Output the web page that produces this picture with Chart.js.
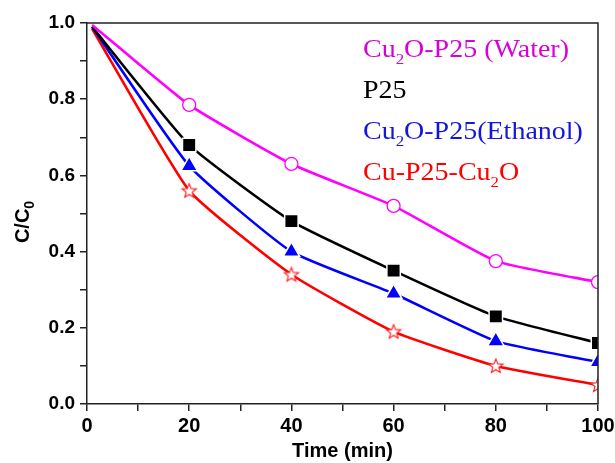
<!DOCTYPE html>
<html>
<head>
<meta charset="utf-8">
<script src="https://cdn.jsdelivr.net/npm/chart.js@4"></script>
<style>
  html, body { margin: 0; padding: 0; background: #fff; }
  #wrap { width: 615px; height: 463px; }
</style>
</head>
<body>
<div id="wrap"><canvas id="chart" width="615" height="463"></canvas></div>
<script>
const times = [1, 20, 40, 60, 80, 100];
const water = [0.995, 0.785, 0.63, 0.52, 0.375, 0.32];
const p25 = [0.99, 0.68, 0.48, 0.35, 0.23, 0.16];
const ethanol = [0.99, 0.625, 0.40, 0.29, 0.165, 0.11];
const cuP25 = [0.985, 0.56, 0.34, 0.19, 0.10, 0.05];

const xTicks = [0, 20, 40, 60, 80, 100];
const yTicks = [0.0, 0.2, 0.4, 0.6, 0.8, 1.0];

// legend lines: [text, isSubscript]
const legendRows = [
    { color: "#d800d8", parts: [["Cu", 0], ["2", 1], ["O-P25 (Water)", 0]] },
    { color: "#000000", parts: [["P25", 0]] },
    { color: "#1515e0", parts: [["Cu", 0], ["2", 1], ["O-P25(Ethanol)", 0]] },
    { color: "#ff0000", parts: [["Cu-P25-Cu", 0], ["2", 1], ["O", 0]] }
];

function pts(ys) {
    return ys.map((y, i) => ({ x: times[i], y: y }));
}

// open star marker
const star = document.createElement("canvas");
star.width = 18;
star.height = 18;
(function () {
    const s = star.getContext("2d");
    s.beginPath();
    for (let i = 0; i < 10; i++) {
        const r = i % 2 === 0 ? 7.5 : 3.2;
        const a = -Math.PI / 2 + i * Math.PI / 5;
        const px = 9 + Math.cos(a) * r;
        const py = 9.5 + Math.sin(a) * r;
        if (i === 0) s.moveTo(px, py); else s.lineTo(px, py);
    }
    s.closePath();
    s.fillStyle = "#fff";
    s.fill();
    s.strokeStyle = "#ff2020";
    s.lineWidth = 1.1;
    s.stroke();
})();

const hideFirst = (r) => (ctx) => ctx.dataIndex === 0 ? 0 : r;

const framePlugin = {
    id: "frame",
    afterDraw(chart) {
        const c = chart.ctx;
        const a = chart.chartArea;
        c.save();
        c.strokeStyle = "#222";
        c.lineWidth = 1.5;
        c.beginPath();
        c.moveTo(a.left, a.top);
        c.lineTo(a.right, a.top);
        c.lineTo(a.right, a.bottom);
        c.stroke();

        // legend text (slightly wide, like the original)
        let y = 57;
        legendRows.forEach(row => {
            c.save();
            c.translate(363, y);
            c.scale(1.12, 1);
            let x = 0;
            c.fillStyle = row.color;
            row.parts.forEach(p => {
                if (p[1]) {
                    c.font = "15px 'Liberation Serif', 'Times New Roman', serif";
                    c.fillText(p[0], x, 7);
                } else {
                    c.font = "25px 'Liberation Serif', 'Times New Roman', serif";
                    c.fillText(p[0], x, 0);
                }
                x += c.measureText(p[0]).width;
            });
            c.restore();
            y += 41;
        });

        // y axis title C/C0
        c.translate(29, 222);
        c.rotate(-Math.PI / 2);
        c.fillStyle = "#000";
        c.font = "bold 20px 'Liberation Sans', Arial, sans-serif";
        const w1 = c.measureText("C/C").width;
        c.font = "bold 14px 'Liberation Sans', Arial, sans-serif";
        const w2 = c.measureText("0").width;
        let sx = -(w1 + w2) / 2;
        c.font = "bold 20px 'Liberation Sans', Arial, sans-serif";
        c.fillText("C/C", sx, 0);
        c.font = "bold 14px 'Liberation Sans', Arial, sans-serif";
        c.fillText("0", sx + w1, 5);
        c.restore();
    }
};

const ctx = document.getElementById("chart");
const chart = new Chart(ctx, {
    type: "line",
    data: {
        datasets: [
            {
                label: "Cu2O-P25 (Water)",
                data: pts(water),
                borderColor: "#ff00ff",
                borderWidth: 2.6,
                pointStyle: "circle",
                pointRadius: hideFirst(6.5),
                pointBackgroundColor: "#fff",
                pointBorderColor: "#ff00ff",
                pointBorderWidth: 1.3
            },
            {
                label: "P25",
                data: pts(p25),
                borderColor: "#000",
                borderWidth: 2.6,
                pointStyle: "rect",
                pointRadius: hideFirst(9.5),
                pointBackgroundColor: "#000",
                pointBorderColor: "#fff",
                pointBorderWidth: 1.5
            },
            {
                label: "Cu2O-P25(Ethanol)",
                data: pts(ethanol),
                borderColor: "#0000ff",
                borderWidth: 2.6,
                pointStyle: "triangle",
                pointRadius: hideFirst(9.5),
                pointBackgroundColor: "#0000ff",
                pointBorderColor: "#fff",
                pointBorderWidth: 1.5
            },
            {
                label: "Cu-P25-Cu2O",
                data: pts(cuP25),
                borderColor: "#ff0000",
                borderWidth: 2.6,
                pointStyle: (c) => c.dataIndex === 0 ? false : star,
                pointRadius: 9
            }
        ]
    },
    options: {
        responsive: false,
        animation: false,
        clip: 0,
        tension: 0.15,
        layout: { padding: { top: 23, right: 17, left: 0, bottom: 0 } },
        plugins: {
            legend: { display: false },
            tooltip: { enabled: false }
        },
        scales: {
            x: {
                type: "linear",
                min: 0,
                max: 100,
                afterFit: (s) => { s.height = 59; s.paddingLeft = 0; s.paddingRight = 0; },
                ticks: {
                    stepSize: 10,
                    autoSkip: false,
                    maxRotation: 0,
                    padding: 3,
                    color: "#000",
                    font: { family: "'Liberation Sans', Arial, sans-serif", size: 20, weight: "bold" },
                    callback: (v) => xTicks.includes(v) ? String(v) : ""
                },
                grid: { drawOnChartArea: false, tickLength: 7, color: "#222", lineWidth: 1.5 },
                border: { color: "#222", width: 1.5 },
                title: {
                    display: true,
                    text: "Time (min)",
                    color: "#000",
                    padding: { top: 2, bottom: 0 },
                    font: { family: "'Liberation Sans', Arial, sans-serif", size: 20, weight: "bold" }
                }
            },
            y: {
                min: 0,
                max: 1,
                afterFit: (s) => { s.width = 87; s.paddingTop = 0; s.paddingBottom = 0; },
                ticks: {
                    stepSize: 0.1,
                    autoSkip: false,
                    padding: 5,
                    color: "#000",
                    font: { family: "'Liberation Sans', Arial, sans-serif", size: 19, weight: "bold" },
                    callback: (v) => {
                        const k = Math.round(v * 10);
                        return k % 2 === 0 ? (k / 10).toFixed(1) : "";
                    }
                },
                grid: { drawOnChartArea: false, tickLength: 7, color: "#222", lineWidth: 1.5 },
                border: { color: "#222", width: 1.5 }
            }
        }
    },
    plugins: [framePlugin]
});
</script>
</body>
</html>
